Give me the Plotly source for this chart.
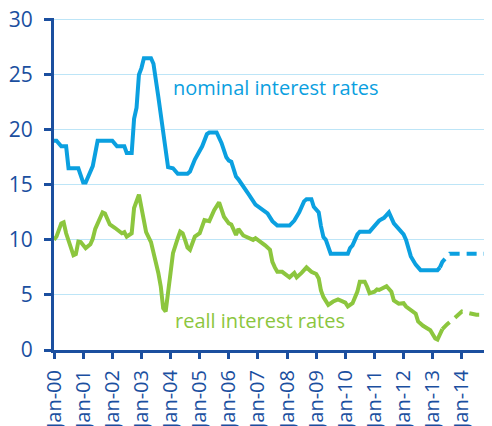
import plotly.graph_objects as go

# nominal policy rate, actual
nom_dates = ["2000-01", "2000-02", "2000-04", "2000-06", "2000-07", "2000-11", "2001-01", "2001-02",
             "2001-05", "2001-07", "2002-01", "2002-03", "2002-06", "2002-07", "2002-09", "2002-10",
             "2002-11", "2002-12", "2003-01", "2003-02", "2003-05", "2003-06", "2003-08", "2003-10",
             "2003-12", "2004-02", "2004-04", "2004-08", "2004-09", "2004-11", "2005-02", "2005-04",
             "2005-05", "2005-08", "2005-10", "2005-12", "2006-01", "2006-02", "2006-04", "2006-05",
             "2006-07", "2006-09", "2006-12", "2007-02", "2007-05", "2007-07", "2007-09", "2008-02",
             "2008-04", "2008-06", "2008-08", "2008-09", "2008-11", "2008-12", "2009-01", "2009-02",
             "2009-03", "2009-04", "2009-05", "2009-06", "2009-07", "2010-02", "2010-03", "2010-04",
             "2010-06", "2010-07", "2010-11", "2010-12", "2011-01", "2011-03", "2011-05", "2011-06",
             "2011-07", "2011-08", "2011-09", "2011-11", "2012-01", "2012-02", "2012-04", "2012-06",
             "2012-08", "2013-03", "2013-04"]
nom_vals = [19.0, 19.0, 18.5, 18.5, 16.5, 16.5, 15.2, 15.2,
            16.7, 19.0, 19.0, 18.5, 18.5, 17.9, 17.9, 21.0,
            22.0, 25.0, 25.6, 26.5, 26.5, 26.0, 23.0, 19.8,
            16.6, 16.5, 16.0, 16.0, 16.2, 17.3, 18.5, 19.6,
            19.75, 19.75, 18.8, 17.5, 17.2, 17.1, 15.75, 15.5,
            14.9, 14.2, 13.2, 12.9, 12.4, 11.7, 11.3, 11.3,
            11.75, 12.5, 13.5, 13.7, 13.7, 13.0, 12.8, 12.5,
            11.25, 10.25, 10.0, 9.25, 8.75, 8.75, 9.25, 9.5,
            10.5, 10.75, 10.75, 11.0, 11.25, 11.75, 12.0, 12.25,
            12.5, 12.0, 11.5, 11.0, 10.5, 10.0, 8.5, 7.75,
            7.25, 7.25, 7.5]

# nominal, expected
nom_f_dates = ["2013-04", "2013-05", "2013-07", "2013-08", "2014-12"]
nom_f_vals = [7.5, 8.0, 8.5, 8.75, 8.75]

# real rate, actual
real_dates = ["2000-01", "2000-02", "2000-04", "2000-05", "2000-06", "2000-07", "2000-08", "2000-09",
              "2000-10", "2000-11", "2000-12", "2001-01", "2001-02", "2001-04", "2001-05", "2001-06",
              "2001-07", "2001-09", "2001-10", "2001-12", "2002-02", "2002-04", "2002-05", "2002-06",
              "2002-07", "2002-09", "2002-10", "2002-12", "2003-01", "2003-03", "2003-05", "2003-07",
              "2003-08", "2003-09", "2003-10", "2003-11", "2003-12", "2004-01", "2004-02", "2004-03",
              "2004-04", "2004-05", "2004-06", "2004-07", "2004-08", "2004-09", "2004-10", "2004-11",
              "2005-01", "2005-03", "2005-05", "2005-07", "2005-09", "2005-11", "2006-01", "2006-02",
              "2006-04", "2006-05", "2006-07", "2006-09", "2006-11", "2006-12", "2007-02", "2007-04",
              "2007-06", "2007-07", "2007-08", "2007-09", "2007-11", "2008-01", "2008-02", "2008-04",
              "2008-05", "2008-07", "2008-09", "2008-11", "2009-01", "2009-02", "2009-03", "2009-04",
              "2009-06", "2009-08", "2009-10", "2010-01", "2010-02", "2010-04", "2010-06", "2010-07",
              "2010-09", "2010-10", "2010-11", "2011-01", "2011-02", "2011-03", "2011-05", "2011-06",
              "2011-08", "2011-09", "2011-11", "2012-01", "2012-02", "2012-04", "2012-06", "2012-07",
              "2012-09", "2012-12", "2013-02", "2013-03", "2013-04", "2013-05"]
real_vals = [10.0, 10.3, 11.5, 11.6, 10.6, 10.0, 9.4, 8.6,
             8.7, 9.85, 9.8, 9.5, 9.25, 9.6, 10.1, 11.0,
             11.5, 12.5, 12.4, 11.4, 11.1, 10.8, 10.6, 10.7,
             10.3, 10.6, 12.9, 14.1, 13.0, 10.7, 9.8, 8.0,
             7.0, 5.75, 3.8, 3.5, 5.0, 7.0, 8.8, 9.6,
             10.15, 10.75, 10.6, 10.0, 9.3, 9.1, 9.8, 10.3,
             10.6, 11.8, 11.7, 12.7, 13.4, 12.1, 11.5, 11.4,
             10.45, 11.0, 10.4, 10.15, 10.0, 10.15, 9.85, 9.5,
             9.1, 8.0, 7.5, 7.1, 7.1, 6.8, 6.6, 7.0,
             6.6, 7.0, 7.5, 7.1, 6.9, 6.5, 5.4, 4.8,
             4.1, 4.4, 4.6, 4.3, 3.95, 4.25, 5.3, 6.2,
             6.2, 5.75, 5.15, 5.3, 5.5, 5.45, 5.75, 5.8,
             5.3, 4.5, 4.2, 4.25, 3.95, 3.6, 3.3, 2.6,
             2.2, 1.8, 1.05, 0.95, 1.4, 1.9]

# real, expected
real_f_dates = ["2013-05", "2013-07", "2013-10", "2014-01", "2014-03", "2014-07", "2014-12"]
real_f_vals = [1.9, 2.35, 2.9, 3.5, 3.4, 3.2, 3.2]

tick_dates = ["%d-01-01" % y for y in range(2000, 2016)]
tick_text = ["Jan-%02d" % (y - 2000) for y in range(2000, 2015)] + [""]

BLUE = "#0ba0e0"
GREEN = "#8cc63e"
AXIS = "#1b4f9f"
FONT = "Open Sans"

fig = go.Figure()
fig.add_trace(go.Scatter(x=nom_dates, y=nom_vals, mode="lines",
                         line=dict(color=BLUE, width=4)))
fig.add_trace(go.Scatter(x=nom_f_dates, y=nom_f_vals, mode="lines",
                         line=dict(color=BLUE, width=4, dash="10px,7px")))
fig.add_trace(go.Scatter(x=real_dates, y=real_vals, mode="lines",
                         line=dict(color=GREEN, width=4)))
fig.add_trace(go.Scatter(x=real_f_dates, y=real_f_vals, mode="lines",
                         line=dict(color=GREEN, width=4, dash="10px,7px")))

fig.add_annotation(x="2004-01-01", y=23.8, text="nominal interest rates", showarrow=False,
                   xanchor="left", yanchor="middle", font=dict(color=BLUE, size=20, family=FONT))
fig.add_annotation(x="2004-02-01", y=2.7, text="reall interest rates", showarrow=False,
                   xanchor="left", yanchor="middle", font=dict(color=GREEN, size=20, family=FONT))

fig.update_xaxes(range=["2000-01-01", "2015-01-01"], tickvals=tick_dates, ticktext=tick_text,
                 tickangle=-90, ticks="outside", ticklen=6, tickwidth=3, tickcolor=AXIS,
                 ticklabelstandoff=3, automargin=False,
                 showline=True, linewidth=3, linecolor=AXIS, showgrid=False, zeroline=False,
                 tickfont=dict(color=AXIS, size=20, family=FONT))
# a hair above 30 so the top gridline is not dropped at the edge
fig.update_yaxes(range=[0, 30.15], tick0=0, dtick=5, ticks="outside", ticklen=7, tickwidth=3,
                 tickcolor=AXIS, automargin=False, ticklabelstandoff=7, ticklabeloverflow="allow",
                 showline=True, linewidth=3, linecolor=AXIS, gridcolor="#bde5f7", gridwidth=1,
                 zeroline=False, tickfont=dict(color=AXIS, size=21, family=FONT))

# the page body adds an 8px offset, so the figure is a bit smaller than the window
fig.update_layout(width=484, height=418, autosize=False, showlegend=False,
                  margin=dict(l=46, r=1, t=10, b=76),
                  plot_bgcolor="white", paper_bgcolor="white")

fig.write_html("out.html")
